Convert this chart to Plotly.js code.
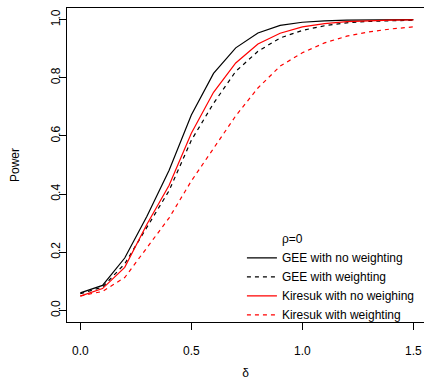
<!DOCTYPE html>
<html>
<head>
<meta charset="utf-8">
<script src="https://cdn.plot.ly/plotly-3.0.1.min.js"></script>
<style>html,body{margin:0;padding:0;background:#fff;overflow:hidden;}#chart{width:424px;height:380px;}</style>
</head>
<body>
<div id="chart"></div>
<script>
var delta = [0, 0.1, 0.2, 0.3, 0.4, 0.5, 0.6, 0.7, 0.8, 0.9, 1.0, 1.1, 1.2, 1.3, 1.4, 1.5];
var geeNoWeight = [0.060, 0.086, 0.180, 0.324, 0.482, 0.672, 0.815, 0.903, 0.954, 0.980, 0.991, 0.996, 0.998, 0.999, 1.000, 1.000];
var geeWeight = [0.057, 0.080, 0.160, 0.287, 0.412, 0.585, 0.712, 0.822, 0.891, 0.937, 0.963, 0.979, 0.989, 0.994, 0.997, 0.998];
var kirNoWeight = [0.049, 0.075, 0.148, 0.296, 0.430, 0.609, 0.750, 0.851, 0.916, 0.953, 0.975, 0.986, 0.993, 0.996, 0.998, 0.999];
var kirWeight = [0.050, 0.065, 0.113, 0.216, 0.318, 0.445, 0.557, 0.669, 0.765, 0.840, 0.886, 0.920, 0.943, 0.958, 0.968, 0.975];
var seriesNames = ["GEE with no weighting", "GEE with weighting", "Kiresuk with no weighing", "Kiresuk with weighting"];
var legendHeader = "\u03c1=0";
var xTicks = [0, 0.5, 1.0, 1.5];
var xTickLabels = ["0.0", "0.5", "1.0", "1.5"];
var yTicks = [0, 0.2, 0.4, 0.6, 0.8, 1.0];
var yTickLabels = ["0.0", "0.2", "0.4", "0.6", "0.8", "1.0"];

var FONT = "Liberation Sans, Arial, Helvetica, sans-serif";
var dashPat = "4px,4px";

var traces = [
  {x: [null], y: [null], mode: "lines", name: legendHeader, line: {width: 0, color: "rgba(0,0,0,0)"}, hoverinfo: "skip"},
  {x: delta, y: geeNoWeight, mode: "lines", name: seriesNames[0], line: {color: "#000000", width: 1.2}},
  {x: delta, y: geeWeight, mode: "lines", name: seriesNames[1], line: {color: "#000000", width: 1.2, dash: dashPat}},
  {x: delta, y: kirNoWeight, mode: "lines", name: seriesNames[2], line: {color: "#ff0000", width: 1.2}},
  {x: delta, y: kirWeight, mode: "lines", name: seriesNames[3], line: {color: "#ff0000", width: 1.2, dash: dashPat}}
];

var layout = {
  width: 424,
  height: 380,
  margin: {l: 67, r: 0, t: 8, b: 58, pad: 0},
  paper_bgcolor: "#ffffff",
  plot_bgcolor: "#ffffff",
  font: {family: FONT, size: 12, color: "#000000"},
  showlegend: true,
  legend: {
    x: 0.49, y: 0.144, xanchor: "left", yanchor: "middle",
    bgcolor: "rgba(0,0,0,0)", borderwidth: 0,
    font: {family: FONT, size: 12, color: "#000000"},
    traceorder: "normal", tracegroupgap: 0
  },
  xaxis: {
    range: [-0.06, 1.548],
    tickvals: xTicks, ticktext: xTickLabels,
    ticks: "outside", ticklen: 7, tickwidth: 1, tickcolor: "#000",
    showline: true, linecolor: "#000", linewidth: 1, mirror: true,
    showgrid: false, zeroline: false,
    tickfont: {family: FONT, size: 12, color: "#000"},
    ticklabelstandoff: 11,
    title: {text: "\u03b4", font: {family: FONT, size: 12, color: "#000"}, standoff: 32}
  },
  yaxis: {
    range: [-0.04, 1.04],
    tickvals: yTicks, ticktext: yTickLabels, tickangle: -90,
    ticks: "outside", ticklen: 7, tickwidth: 1, tickcolor: "#000",
    showline: true, linecolor: "#000", linewidth: 1, mirror: false,
    showgrid: false, zeroline: false,
    tickfont: {family: FONT, size: 12, color: "#000"},
    ticklabelstandoff: -6,
    title: {text: "Power", font: {family: FONT, size: 12, color: "#000"}, standoff: 27}
  }
};

Plotly.newPlot("chart", traces, layout, {displayModeBar: false, staticPlot: true});
</script>
</body>
</html>
